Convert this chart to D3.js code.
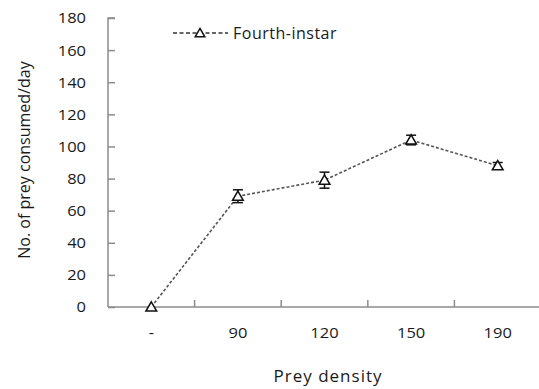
<!DOCTYPE html>
<html>
<head>
<meta charset="utf-8">
<script src="https://cdn.jsdelivr.net/npm/d3@7"></script>
<style>
  body { margin: 0; background: #fff; }
  svg { display: block; font-family: "Open Sans", "DejaVu Sans", sans-serif; }
</style>
</head>
<body>
<div id="chart"></div>
<script>
const categories = ['-', '90', '120', '150', '190'];
const consumed = [0, 69, 79, 104, 88];
const errors = [0, 4, 5, 3, 2];
const yTicks = [0, 20, 40, 60, 80, 100, 120, 140, 160, 180];
const seriesName = 'Fourth-instar';

const width = 539;
const height = 389;
const margin = { top: 18, right: 0, bottom: 82, left: 108 };

const svg = d3.select('#chart')
  .append('svg')
  .attr('width', width)
  .attr('height', height);

const x = d3.scaleBand()
  .domain(categories)
  .range([margin.left, 541]);

const y = d3.scaleLinear()
  .domain([0, 180])
  .range([height - margin.bottom, margin.top]);

// y axis
const yAxis = svg.append('g')
  .attr('transform', `translate(${margin.left},0)`)
  .call(d3.axisRight(y).tickValues(yTicks).tickSize(7).tickFormat(''));
yAxis.selectAll('line, path').attr('stroke', '#8c8c8c').attr('stroke-width', 1.5);
yAxis.select('.domain').attr('d', `M7,${y(180)}H0V${y(0)}`);

svg.append('g')
  .selectAll('text')
  .data(yTicks)
  .join('text')
  .attr('transform', d => `translate(86,${y(d)}) scale(1.1,1)`)
  .attr('dy', '0.36em')
  .attr('text-anchor', 'end')
  .attr('font-size', 15)
  .attr('fill', '#1a1a1a')
  .text(d => d);

// x axis
const xAxis = svg.append('g')
  .attr('transform', `translate(0,${y(0)})`);
xAxis.append('line')
  .attr('x1', margin.left).attr('x2', width)
  .attr('stroke', '#8c8c8c').attr('stroke-width', 1.5);
xAxis.selectAll('.tick')
  .data(categories.slice(1))
  .join('line')
  .attr('x1', d => x(d)).attr('x2', d => x(d))
  .attr('y1', 0).attr('y2', -7)
  .attr('stroke', '#8c8c8c').attr('stroke-width', 1.5);
xAxis.selectAll('text')
  .data(categories)
  .join('text')
  .attr('transform', d => `translate(${x(d) + x.bandwidth() / 2},31) scale(1.1,1)`)
  .attr('text-anchor', 'middle')
  .attr('font-size', 15)
  .attr('fill', '#1a1a1a')
  .text(d => d);

// titles
svg.append('text')
  .attr('x', 328)
  .attr('y', 382)
  .attr('text-anchor', 'middle')
  .attr('font-size', 17)
  .attr('letter-spacing', 1)
  .attr('fill', '#1a1a1a')
  .text('Prey density');

svg.append('text')
  .attr('transform', 'translate(30,160) rotate(-90)')
  .attr('text-anchor', 'middle')
  .attr('font-size', 16)
  .attr('fill', '#1a1a1a')
  .text('No. of prey consumed/day');

// series
const cx = i => x(categories[i]) + x.bandwidth() / 2;
const line = d3.line()
  .x((d, i) => cx(i))
  .y(d => y(d));

svg.append('path')
  .datum(consumed)
  .attr('d', line)
  .attr('fill', 'none')
  .attr('stroke', '#555')
  .attr('stroke-width', 1.6)
  .attr('stroke-dasharray', '3,2');

const err = svg.append('g').attr('stroke', '#111').attr('stroke-width', 1.5);
consumed.forEach((v, i) => {
  if (!errors[i]) return;
  const px = cx(i);
  err.append('line')
    .attr('x1', px).attr('x2', px)
    .attr('y1', y(v + errors[i])).attr('y2', y(v - errors[i]));
  [v + errors[i], v - errors[i]].forEach(e => {
    err.append('line')
      .attr('x1', px - 5).attr('x2', px + 5)
      .attr('y1', y(e)).attr('y2', y(e));
  });
});

const tri = d3.symbol().type(d3.symbolTriangle).size(50);
svg.append('g')
  .selectAll('path')
  .data(consumed)
  .join('path')
  .attr('transform', (d, i) => `translate(${cx(i)},${y(d) + 1})`)
  .attr('d', tri)
  .attr('fill', '#fff')
  .attr('stroke', '#111')
  .attr('stroke-width', 1.5);

// legend
const lg = svg.append('g').attr('transform', 'translate(0,33)');
lg.append('line')
  .attr('x1', 173).attr('x2', 228)
  .attr('stroke', '#333').attr('stroke-width', 1.5)
  .attr('stroke-dasharray', '4,2.5');
lg.append('path')
  .attr('transform', 'translate(200,1)')
  .attr('d', d3.symbol().type(d3.symbolTriangle).size(40))
  .attr('fill', '#fff')
  .attr('stroke', '#111')
  .attr('stroke-width', 1.5);
lg.append('text')
  .attr('x', 233)
  .attr('dy', '0.36em')
  .attr('font-size', 16)
  .attr('letter-spacing', 0.5)
  .attr('fill', '#1a1a1a')
  .text(seriesName);
</script>
</body>
</html>
